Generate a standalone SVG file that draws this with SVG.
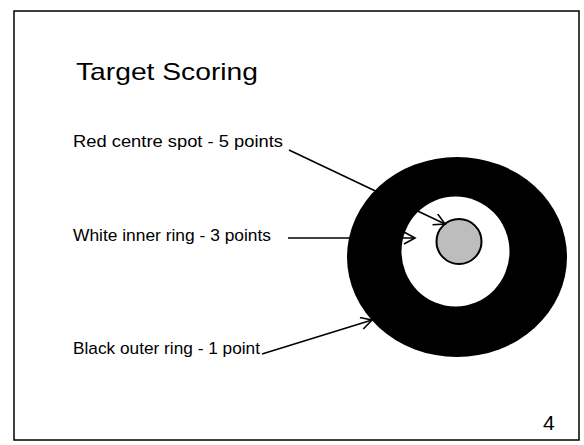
<svg xmlns="http://www.w3.org/2000/svg" width="584" height="445" viewBox="0 0 584 445">
<style>
.lbl{font-family:"Liberation Sans",Arial,sans-serif;font-size:17px;fill:#000}
.ttl{font-family:"Liberation Sans",Arial,sans-serif;font-size:24px;fill:#000}
.conn{stroke:#000;stroke-width:1.6;fill:none}
</style>
<defs>
<marker id="arr" markerWidth="14" markerHeight="14" refX="12" refY="6" orient="auto" markerUnits="userSpaceOnUse">
<path d="M1,0 L12,6 L1,12" fill="none" stroke="#000" stroke-width="1.6"/>
</marker>
</defs>
<rect x="0" y="0" width="584" height="445" fill="#fff"/>
<rect x="14" y="11" width="565" height="429" fill="none" stroke="#000" stroke-width="1.5"/>
<text class="ttl" x="76" y="80" textLength="182" lengthAdjust="spacingAndGlyphs">Target Scoring</text>
<g id="target">
<ellipse cx="457" cy="257" rx="110" ry="100" fill="#000"/>
<ellipse cx="455.5" cy="251.5" rx="54" ry="55" fill="#fff"/>
</g>
<g id="spot">
<circle cx="459" cy="241.5" r="22.5" fill="#bdbdbd" stroke="#000" stroke-width="2"/>
</g>
<g id="label-red"><text class="lbl" x="73" y="147" textLength="210" lengthAdjust="spacingAndGlyphs">Red centre spot - 5 points</text></g>
<g id="label-white"><text class="lbl" x="73" y="241" textLength="198" lengthAdjust="spacingAndGlyphs">White inner ring - 3 points</text></g>
<g id="label-black"><text class="lbl" x="73" y="354" textLength="187" lengthAdjust="spacingAndGlyphs">Black outer ring - 1 point</text></g>
<g id="connectors">
<line class="conn" x1="289" y1="150" x2="445" y2="224" marker-end="url(#arr)"/>
<line class="conn" x1="288" y1="238" x2="415" y2="238" marker-end="url(#arr)"/>
<line class="conn" x1="262" y1="354" x2="372" y2="320" marker-end="url(#arr)"/>
</g>
<text class="ttl" x="543" y="430" style="font-size:21px">4</text>
</svg>
